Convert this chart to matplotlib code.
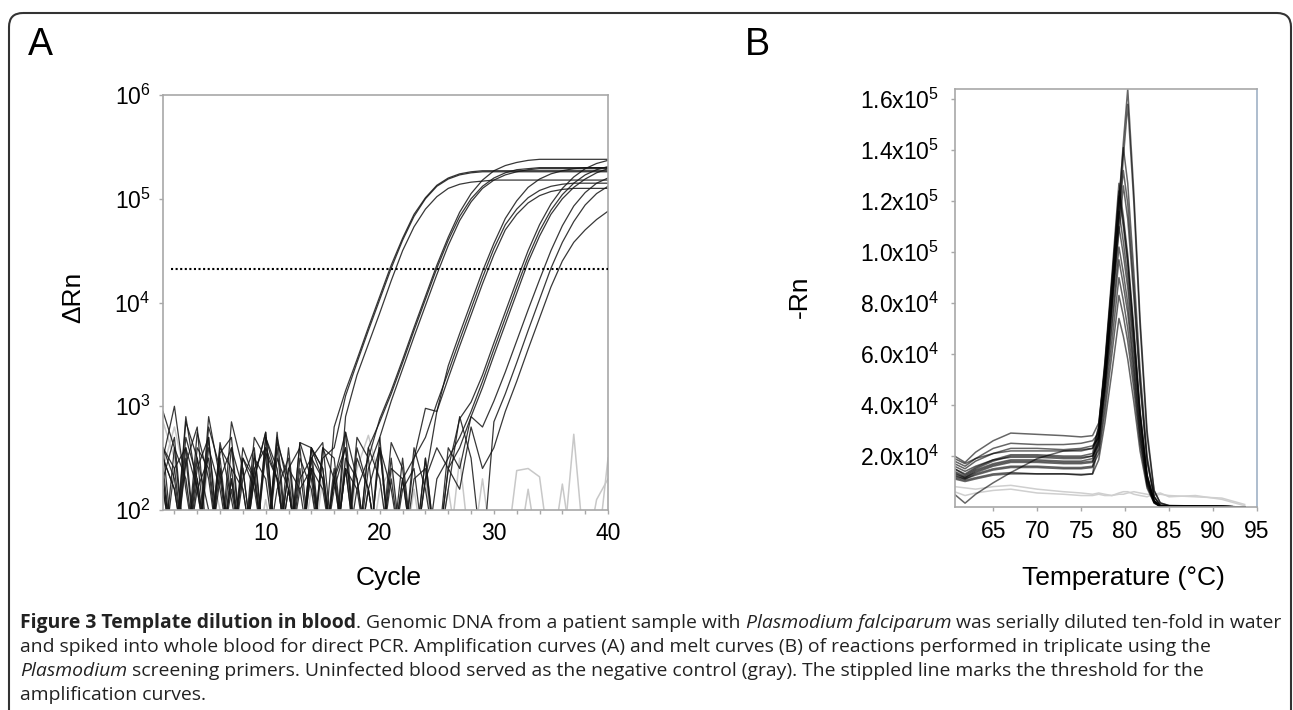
import numpy as np
import matplotlib
matplotlib.use("Agg")
import matplotlib.pyplot as plt
from matplotlib import font_manager
from matplotlib.patches import FancyBboxPatch
from matplotlib.ticker import FixedLocator, MultipleLocator, NullLocator, FuncFormatter

plt.rcParams['font.family'] = ['Liberation Sans', 'DejaVu Sans']
plt.rcParams['mathtext.default'] = 'regular'

# Panel A: amplification curves, log10(delta Rn) at each cycle (1.5 = below the axis)
cycles = list(range(1, 41))
threshold = 2.1e4

amp_g1a = [2.95, 2.6, 1.5, 2.75, 2.3, 1.5, 2.6, 2.2, 1.5, 2.7, 2.4, 1.5, 2.65, 2.3, 1.5,
           2.8, 3.15, 3.45, 3.76, 4.06, 4.36, 4.62, 4.85, 5.01, 5.13, 5.2, 5.24, 5.26,
           5.27, 5.27, 5.27, 5.27, 5.27, 5.27, 5.27, 5.27, 5.27, 5.27, 5.27, 5.27]
amp_g1b = [2.5, 3.0, 2.2, 1.5, 2.8, 2.4, 1.5, 2.6, 2.3, 2.75, 1.5, 2.4, 2.6, 1.5, 2.5,
           2.6, 3.1, 3.42, 3.73, 4.03, 4.33, 4.6, 4.83, 5.0, 5.12, 5.19, 5.23, 5.25,
           5.26, 5.26, 5.26, 5.26, 5.26, 5.26, 5.26, 5.26, 5.26, 5.26, 5.26, 5.26]
amp_g1c = [2.2, 1.5, 2.85, 2.5, 1.5, 2.65, 2.1, 1.5, 2.55, 1.5, 2.7, 2.2, 1.5, 2.6, 2.4,
           1.5, 2.9, 3.3, 3.6, 3.9, 4.21, 4.5, 4.73, 4.9, 5.02, 5.1, 5.14, 5.16, 5.17,
           5.18, 5.18, 5.18, 5.18, 5.18, 5.18, 5.18, 5.18, 5.18, 5.18, 5.18]
amp_g2a = [2.6, 1.5, 2.9, 2.2, 1.5, 2.55, 2.7, 1.5, 2.3, 2.75, 1.5, 2.4, 2.2, 1.5, 2.6, 2.5, 1.5, 2.7, 2.5,
           2.88, 3.15, 3.45, 3.76, 4.06, 4.36, 4.63, 4.87, 5.05, 5.18, 5.27, 5.32, 5.35, 5.37,
           5.38, 5.38, 5.38, 5.38, 5.38, 5.38, 5.38]
amp_g2b = [2.3, 2.7, 1.5, 2.5, 2.0, 1.5, 2.85, 2.4, 1.5, 2.6, 2.3, 1.5, 2.65, 2.6, 1.5, 2.3, 2.75, 1.5, 2.6,
           2.85, 3.12, 3.42, 3.73, 4.03, 4.33, 4.6, 4.83, 5.0, 5.12, 5.2, 5.25, 5.28, 5.29,
           5.3, 5.3, 5.3, 5.3, 5.3, 5.3, 5.3]
amp_g2c = [1.5, 2.4, 2.6, 1.5, 2.9, 2.3, 1.5, 2.5, 2.2, 1.5, 2.75, 1.5, 2.3, 2.5, 2.65, 1.5, 2.4, 2.2, 1.5,
           2.7, 3.05, 3.36, 3.67, 3.97, 4.27, 4.55, 4.79, 4.97, 5.1, 5.18, 5.23, 5.26, 5.28,
           5.29, 5.29, 5.29, 5.29, 5.29, 5.29, 5.29]
amp_g3a = [2.5, 2.2, 1.5, 2.6, 2.4, 1.5, 2.3, 1.5, 2.7, 2.5, 1.5, 2.2, 1.5, 2.6, 2.4, 1.5, 2.75, 2.3, 1.5,
           2.6, 2.2, 1.5, 2.5,
           2.98, 2.95, 3.39, 3.7, 4.0, 4.3, 4.57, 4.81, 4.98, 5.11, 5.19, 5.24, 5.27, 5.29,
           5.3, 5.3, 5.3]
amp_g3b = [2.2, 1.5, 2.45, 2.8, 1.5, 2.3, 2.6, 1.5, 2.4, 1.5, 2.65, 2.3, 1.5, 2.5, 1.5, 2.2, 2.6, 1.5, 2.4,
           2.7, 1.5, 2.3, 2.5,
           2.7, 3.03, 3.33, 3.64, 3.94, 4.24, 4.52, 4.75, 4.9, 5.01, 5.08, 5.12, 5.14,
           5.15, 5.15, 5.15, 5.15]
amp_g3c = [1.5, 2.6, 2.3, 1.5, 2.7, 1.5, 2.4, 2.2, 1.5, 2.55, 2.3, 1.5, 2.4, 1.5, 2.6, 2.3, 1.5, 2.2, 2.5,
           1.5, 2.65, 2.4, 1.5, 2.3,
           2.95, 3.27, 3.58, 3.88, 4.18, 4.46, 4.7, 4.85, 4.96, 5.03, 5.07, 5.09,
           5.1, 5.1, 5.1, 5.1]
amp_g4a = [2.4, 1.5, 2.7, 2.3, 1.5, 2.5, 1.5, 2.3, 2.6, 1.5, 2.2, 2.5, 1.5, 2.6, 2.3, 1.5, 2.4, 1.5, 2.6,
           2.3, 1.5, 2.5, 1.5, 2.3, 2.6, 2.4,
           2.88, 3.04, 3.3, 3.61, 3.91, 4.21, 4.5, 4.75, 4.95, 5.1, 5.21, 5.29, 5.34, 5.37]
amp_g4b = [2.6, 2.3, 1.5, 2.4, 2.7, 1.5, 2.2, 1.5, 2.5, 2.3, 1.5, 2.6, 1.5, 2.4, 2.2, 1.5, 2.5, 2.3, 1.5,
           2.6, 1.5, 2.2, 2.4, 1.5, 2.3, 2.5,
           2.7, 2.95, 3.24, 3.55, 3.85, 4.15, 4.44, 4.69, 4.89, 5.04, 5.15, 5.23, 5.28, 5.31]
amp_g4c = [2.3, 1.5, 2.5, 1.5, 2.6, 2.2, 1.5, 2.4, 1.5, 2.7, 2.3, 1.5, 2.5, 2.2, 1.5, 2.4, 1.5, 2.5, 2.2,
           1.5, 2.3, 1.5, 2.6, 2.2, 1.5, 2.4, 2.6,
           2.9, 3.18, 3.49, 3.79, 4.09, 4.39, 4.64, 4.85, 5.0, 5.11, 5.19, 5.25, 5.29]
amp_g5a = [2.5, 2.2, 1.5, 2.3, 1.5, 2.6, 2.4, 1.5, 2.3, 1.5, 2.5, 2.2, 1.5, 2.4, 1.5, 2.3, 2.6, 1.5, 2.2,
           1.5, 2.4, 2.3, 1.5, 2.5, 1.5, 2.6, 2.4, 2.9,
           2.8, 3.05, 3.33, 3.63, 3.93, 4.22, 4.5, 4.74, 4.93, 5.06, 5.15, 5.2]
amp_g5b = [2.3, 1.5, 2.6, 2.2, 1.5, 2.4, 1.5, 2.5, 2.3, 1.5, 2.6, 1.5, 2.2, 2.4, 1.5, 2.3, 1.5, 2.6, 2.2,
           1.5, 2.5, 1.5, 2.3, 2.4, 1.5, 2.2, 2.9, 2.5, 1.5,
           2.85, 3.12, 3.42, 3.73, 4.03, 4.33, 4.58, 4.78, 4.94, 5.05, 5.12]
amp_g5c = [2.6, 2.4, 1.5, 2.2, 2.5, 1.5, 2.3, 1.5, 2.4, 2.6, 1.5, 2.2, 1.5, 2.5, 2.3, 1.5, 2.4, 1.5, 2.2,
           2.6, 1.5, 2.3, 1.5, 2.5, 1.5, 2.4, 2.2, 2.8, 2.4,
           2.6, 2.95, 3.24, 3.55, 3.85, 4.15, 4.4, 4.58, 4.7, 4.8, 4.88]
# uninfected blood (gray)
amp_neg1 = [2.85, 2.5, 1.5, 2.2, 1.5, 1.5, 2.3, 1.5, 1.5, 2.1, 1.5, 1.5, 1.5, 2.2, 1.5, 1.5, 1.5, 2.4, 2.72, 2.3,
            1.5, 1.5, 2.2, 1.5, 1.5, 1.5, 2.5, 1.5, 1.5, 1.5, 1.5, 2.38, 2.4, 2.32, 1.5, 1.5, 2.73, 1.5, 1.5, 2.5]
amp_neg2 = [2.4, 2.8, 2.3, 1.5, 2.5, 2.0, 1.5, 1.5, 2.3, 1.5, 1.5, 2.4, 1.5, 1.5, 2.3, 1.5, 2.5, 1.5, 1.5, 2.2,
            2.4, 1.5, 1.5, 2.3, 1.5, 2.2, 1.5, 1.5, 2.3, 1.5, 1.5, 1.5, 2.2, 1.5, 1.5, 2.25, 1.5, 1.5, 2.1, 2.3]

amp_samples = [amp_g1a, amp_g1b, amp_g1c, amp_g2a, amp_g2b, amp_g2c, amp_g3a, amp_g3b, amp_g3c,
               amp_g4a, amp_g4b, amp_g4c, amp_g5a, amp_g5b, amp_g5c]
amp_controls = [amp_neg1, amp_neg2]

# Panel B: melt curves, -Rn in units of 1e4
melt_unit = 1e4
temps = [60.6, 61.8, 63, 65, 67, 70, 73, 75, 76.3, 77, 77.7, 78.5, 79.3, 79.8, 80.3,
         81, 81.7, 82.5, 83.3, 84, 85, 88, 91, 93.6]

melt_c1 = [1.9, 1.7, 1.9, 2.1, 2.2, 2.2, 2.2, 2.2, 2.3, 2.8, 4.9, 8.2, 11.8, 14.3, 16.4, 12.3, 7.4, 3.0, 0.66, 0.16, 0.05, 0.03, 0.02, 0.0]
melt_c2 = [1.7, 1.5, 1.8, 2.1, 2.3, 2.3, 2.25, 2.3, 2.4, 2.7, 4.7, 7.9, 11.4, 13.7, 15.8, 11.9, 7.1, 2.8, 0.63, 0.16, 0.06, 0.04, 0.02, 0.0]
melt_c3 = [2.0, 1.75, 2.15, 2.6, 2.9, 2.85, 2.8, 2.75, 2.8, 3.3, 5.4, 8.7, 12.1, 14.1, 12.7, 9.2, 5.4, 2.0, 0.42, 0.07, 0.04, 0.03, 0.02, 0.0]
melt_c4 = [1.8, 1.6, 1.9, 2.3, 2.5, 2.45, 2.45, 2.5, 2.6, 2.9, 5.0, 8.2, 11.4, 13.2, 11.9, 8.6, 5.0, 1.85, 0.4, 0.07, 0.05, 0.03, 0.02, 0.0]
melt_c5 = [1.5, 1.3, 1.55, 1.85, 2.05, 2.05, 2.0, 2.0, 2.1, 3.2, 5.7, 9.1, 12.7, 11.4, 9.9, 7.0, 3.8, 1.27, 0.25, 0.03, 0.03, 0.02, 0.02, 0.0]
melt_c6 = [1.6, 1.4, 1.6, 1.85, 1.95, 1.95, 1.9, 1.9, 2.0, 2.6, 4.8, 7.8, 10.8, 12.6, 11.3, 8.2, 4.8, 1.76, 0.38, 0.06, 0.04, 0.03, 0.02, 0.0]
melt_c7 = [0.5, 0.15, 0.5, 0.95, 1.35, 1.9, 2.2, 2.25, 2.3, 3.1, 5.6, 8.9, 12.4, 11.2, 9.7, 6.8, 3.7, 1.24, 0.25, 0.03, 0.03, 0.02, 0.02, 0.0]
melt_c8 = [1.4, 1.2, 1.45, 1.7, 1.85, 1.85, 1.8, 1.8, 1.9, 3.05, 5.5, 8.8, 12.2, 11.0, 9.5, 6.7, 3.66, 1.22, 0.24, 0.03, 0.03, 0.02, 0.02, 0.0]
melt_c9 = [1.3, 1.15, 1.35, 1.6, 1.75, 1.75, 1.7, 1.7, 1.75, 2.9, 5.2, 8.4, 11.6, 10.4, 9.0, 6.4, 3.5, 1.16, 0.23, 0.03, 0.03, 0.02, 0.02, 0.0]
melt_c10 = [1.2, 1.1, 1.25, 1.45, 1.55, 1.55, 1.5, 1.5, 1.55, 2.75, 4.95, 7.9, 11.0, 9.9, 8.6, 6.05, 3.3, 1.1, 0.22, 0.03, 0.03, 0.02, 0.02, 0.0]
melt_c11 = [1.15, 1.05, 1.15, 1.3, 1.35, 1.3, 1.3, 1.25, 1.3, 2.55, 4.6, 7.3, 10.2, 9.2, 8.0, 5.6, 3.06, 1.02, 0.2, 0.02, 0.03, 0.02, 0.02, 0.0]
melt_c12 = [1.5, 1.25, 1.5, 1.8, 2.0, 2.0, 1.95, 1.95, 2.0, 2.45, 4.4, 7.0, 9.7, 8.7, 7.6, 5.3, 2.9, 0.97, 0.19, 0.02, 0.03, 0.02, 0.02, 0.0]
melt_c13 = [1.35, 1.15, 1.4, 1.65, 1.8, 1.8, 1.75, 1.75, 1.8, 2.25, 4.05, 6.5, 9.0, 8.1, 7.0, 4.95, 2.7, 0.9, 0.18, 0.02, 0.03, 0.02, 0.02, 0.0]
melt_c14 = [1.25, 1.1, 1.3, 1.5, 1.6, 1.6, 1.55, 1.55, 1.6, 2.1, 3.7, 6.0, 8.3, 7.5, 6.5, 4.6, 2.5, 0.83, 0.17, 0.02, 0.03, 0.02, 0.02, 0.0]
melt_c15 = [1.1, 1.0, 1.1, 1.25, 1.3, 1.3, 1.3, 1.28, 1.3, 1.85, 3.3, 5.3, 7.4, 6.7, 5.8, 4.1, 2.2, 0.74, 0.15, 0.02, 0.03, 0.02, 0.02, 0.0]
melt_neg1 = [0.8, 0.75, 0.7, 0.8, 0.85, 0.7, 0.6, 0.55, 0.5, 0.55, 0.5, 0.45, 0.5, 0.5, 0.55, 0.6, 0.55, 0.5, 0.45, 0.5, 0.45, 0.4, 0.35, 0.1]
melt_neg2 = [0.6, 0.45, 0.55, 0.65, 0.7, 0.55, 0.5, 0.45, 0.45, 0.5, 0.45, 0.45, 0.55, 0.6, 0.6, 0.5, 0.45, 0.4, 0.5, 0.55, 0.4, 0.45, 0.3, 0.05]

melt_samples = [melt_c1, melt_c2, melt_c3, melt_c4, melt_c5, melt_c6, melt_c7, melt_c8,
                melt_c9, melt_c10, melt_c11, melt_c12, melt_c13, melt_c14, melt_c15]
melt_controls = [melt_neg1, melt_neg2]

caption_lines = [
    [("Figure 3 Template dilution in blood", "bold", "normal"),
     (". Genomic DNA from a patient sample with ", "normal", "normal"),
     ("Plasmodium falciparum", "normal", "italic"),
     (" was serially diluted ten-fold in water", "normal", "normal")],
    [("and spiked into whole blood for direct PCR. Amplification curves (A) and melt curves (B) of "
      "reactions performed in triplicate using the", "normal", "normal")],
    [("Plasmodium", "normal", "italic"),
     (" screening primers. Uninfected blood served as the negative control (gray). The stippled line "
      "marks the threshold for the", "normal", "normal")],
    [("amplification curves.", "normal", "normal")],
]

SPINE = "#a8a8a8"


def pick_font(names):
    for name in names:
        try:
            font_manager.findfont(font_manager.FontProperties(family=name), fallback_to_default=False)
            return name
        except ValueError:
            continue
    return "DejaVu Sans"


def run_width(ax, renderer, s, **kw):
    # measure with bars on both sides so leading/trailing spaces count
    t = ax.text(0, 0, "|" + s + "|", **kw)
    b = ax.text(0, 0, "||", **kw)
    w = t.get_window_extent(renderer).width - b.get_window_extent(renderer).width
    t.remove()
    b.remove()
    return w


def style_axes(ax):
    ax.set_facecolor("none")
    for sp in ax.spines.values():
        sp.set_color(SPINE)
        sp.set_linewidth(1.2)
    ax.tick_params(which="both", direction="out", length=3, width=1, color=SPINE,
                   labelsize=16.5, pad=6)


fig = plt.figure(figsize=(12.93, 7.10), dpi=100)

# background layer in pixel units for frame, panel letters and caption
bg = fig.add_axes([0, 0, 1, 1])
bg.set_xlim(0, 1293)
bg.set_ylim(710, 0)
bg.axis("off")
bg.add_patch(FancyBboxPatch((9, 13), 1282, 760, boxstyle="round,pad=0,rounding_size=14",
                            fill=False, ec="#333333", lw=1.5))
bg.text(28, 55, "A", fontsize=27, va="baseline")
bg.text(745, 55, "B", fontsize=27, va="baseline")

# ---- panel A ----
axA = fig.add_axes([163 / 1293, 200 / 710, 445 / 1293, 415 / 710])
style_axes(axA)
axA.set_yscale("log")
for v in amp_controls:
    axA.plot(cycles, 10 ** np.array(v), color="#c8c8c8", lw=1.1, zorder=1)
for v in amp_samples:
    axA.plot(cycles, 10 ** np.array(v), color="#151515", lw=0.9, alpha=0.85, zorder=2)
axA.axhline(threshold, xmin=0.018, color="black", lw=1.5, ls=(0, (1, 1.2)), zorder=3)
axA.set_xlim(1, 40)
axA.set_ylim(1e2, 1e6)
axA.xaxis.set_major_locator(FixedLocator([10, 20, 30, 40]))
axA.xaxis.set_minor_locator(MultipleLocator(2))
axA.yaxis.set_major_locator(FixedLocator([1e2, 1e3, 1e4, 1e5, 1e6]))
axA.yaxis.set_minor_locator(NullLocator())
axA.yaxis.set_major_formatter(FuncFormatter(
    lambda v, p: r"$\mathregular{10^{%d}}$" % round(np.log10(v))))
axA.set_xlabel("Cycle", fontsize=19, va="center")
axA.xaxis.set_label_coords(0.506, -0.164)
axA.set_ylabel("\u0394Rn", fontsize=19, va="center")
axA.yaxis.set_label_coords(-0.202, 0.513)

# ---- panel B ----
axB = fig.add_axes([954.5 / 1293, 203 / 710, 302.5 / 1293, 418 / 710])
style_axes(axB)
axB.spines["right"].set_color("#9fb2c6")
for v in melt_controls:
    axB.plot(temps, v, color="#cfcfcf", lw=1.1, zorder=1)
for v in melt_samples:
    axB.plot(temps, v, color="black", lw=1.1, alpha=0.6, zorder=2)
axB.set_xlim(60.6, 95)
axB.set_ylim(0, 16.4)
axB.xaxis.set_major_locator(FixedLocator([65, 70, 75, 80, 85, 90, 95]))
axB.yaxis.set_major_locator(FixedLocator([2, 4, 6, 8, 10, 12, 14, 16]))


def melt_label(v, pos):
    val = v * melt_unit
    e = int(np.floor(np.log10(val) + 1e-9))
    return r"$\mathregular{%.1fx10^{%d}}$" % (val / 10 ** e, e)


axB.yaxis.set_major_formatter(FuncFormatter(melt_label))
axB.tick_params(axis="y", pad=8)
axB.set_xlabel("Temperature (\u00b0C)", fontsize=19, va="center")
axB.xaxis.set_label_coords(0.560, -0.170)
axB.set_ylabel("-Rn", fontsize=19, va="center")
axB.yaxis.set_label_coords(-0.511, 0.502)

# ---- caption ----
renderer = fig.canvas.get_renderer()
cap_font = pick_font(["Liberation Sans Narrow", "Open Sans", "Liberation Sans"])
base = 12.0
full = sum(run_width(bg, renderer, s, fontsize=base, fontweight=w, fontstyle=st, family=cap_font)
           for s, w, st in caption_lines[0])
cap_size = base * (1277 - 20) / full
for i, line in enumerate(caption_lines):
    x = 20
    y = 628 + 24 * i
    for s, w, st in line:
        bg.text(x, y, s, fontsize=cap_size, fontweight=w, fontstyle=st, family=cap_font,
                va="baseline", ha="left", color="#222222")
        x += run_width(bg, renderer, s, fontsize=cap_size, fontweight=w, fontstyle=st,
                       family=cap_font)

fig.savefig("out.png", dpi=100)
